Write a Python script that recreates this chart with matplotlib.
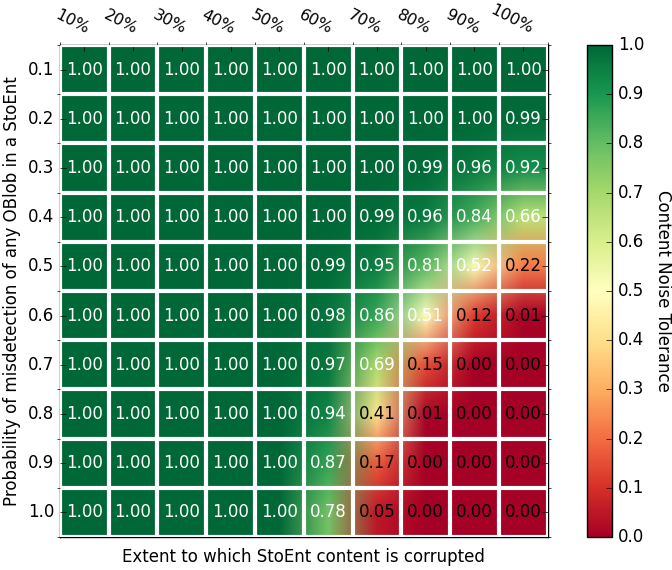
import numpy as np
import matplotlib
matplotlib.use("Agg")
import matplotlib.pyplot as plt
import matplotlib.transforms as mtransforms

prob_labels = ["0.1", "0.2", "0.3", "0.4", "0.5", "0.6", "0.7", "0.8", "0.9", "1.0"]
extent_labels = ["10%", "20%", "30%", "40%", "50%", "60%", "70%", "80%", "90%", "100%"]

row_01 = [1.00, 1.00, 1.00, 1.00, 1.00, 1.00, 1.00, 1.00, 1.00, 1.00]
row_02 = [1.00, 1.00, 1.00, 1.00, 1.00, 1.00, 1.00, 1.00, 1.00, 0.99]
row_03 = [1.00, 1.00, 1.00, 1.00, 1.00, 1.00, 1.00, 0.99, 0.96, 0.92]
row_04 = [1.00, 1.00, 1.00, 1.00, 1.00, 1.00, 0.99, 0.96, 0.84, 0.66]
row_05 = [1.00, 1.00, 1.00, 1.00, 1.00, 0.99, 0.95, 0.81, 0.52, 0.22]
row_06 = [1.00, 1.00, 1.00, 1.00, 1.00, 0.98, 0.86, 0.51, 0.12, 0.01]
row_07 = [1.00, 1.00, 1.00, 1.00, 1.00, 0.97, 0.69, 0.15, 0.00, 0.00]
row_08 = [1.00, 1.00, 1.00, 1.00, 1.00, 0.94, 0.41, 0.01, 0.00, 0.00]
row_09 = [1.00, 1.00, 1.00, 1.00, 1.00, 0.87, 0.17, 0.00, 0.00, 0.00]
row_10 = [1.00, 1.00, 1.00, 1.00, 1.00, 0.78, 0.05, 0.00, 0.00, 0.00]

tolerance = np.array([row_01, row_02, row_03, row_04, row_05,
                      row_06, row_07, row_08, row_09, row_10])

plt.style.use("classic")
plt.rcParams["font.family"] = ["DejaVu Sans"]

fig = plt.figure(figsize=(6.72, 5.7), dpi=100, facecolor="white")
ax = fig.add_axes([0.089, 0.058, 0.726, 0.863])
cax = fig.add_axes([0.874, 0.058, 0.037, 0.863])

# interpolacion en rgba, como el matplotlib viejo
im = ax.imshow(tolerance, cmap="RdYlGn", vmin=0.0, vmax=1.0,
               interpolation="bilinear", interpolation_stage="rgba",
               aspect="auto")

n_rows, n_cols = tolerance.shape
for i in range(n_rows):
    for j in range(n_cols):
        v = tolerance[i, j]
        ax.text(j, i, "%.2f" % v, ha="center", va="center", fontsize=12,
                color="white" if v > 0.5 else "black")

ax.set_xticks(np.arange(n_cols))
ax.set_yticks(np.arange(n_rows))
ax.xaxis.tick_top()
ax.set_xticklabels(extent_labels, rotation=-27, ha="center", fontsize=11.5)
ax.set_yticklabels(prob_labels)
ax.tick_params(axis="x", which="major", pad=6)

# corro las etiquetas de arriba un poco a la izquierda
shift = mtransforms.ScaledTranslation(-12 / 100, 0, fig.dpi_scale_trans)
for lbl in ax.get_xticklabels():
    lbl.set_transform(lbl.get_transform() + shift)

ax.set_xticks(np.arange(-0.5, n_cols, 1), minor=True)
ax.set_yticks(np.arange(-0.5, n_rows, 1), minor=True)
ax.grid(which="minor", color="white", linestyle="-", linewidth=3)
ax.grid(which="major", visible=False)
ax.tick_params(which="minor", length=2, direction="out")
ax.set_xlim(-0.5, n_cols - 0.5)
ax.set_ylim(n_rows - 0.5, -0.5)

ax.set_xlabel("Extent to which StoEnt content is corrupted", labelpad=8)
ax.set_ylabel("Probability of misdetection of any OBlob in a StoEnt")

cbar = fig.colorbar(im, cax=cax, ticks=np.arange(0, 1.01, 0.1))
cbar.set_label("Content Noise Tolerance", rotation=270, labelpad=20)

fig.savefig("out.png", dpi=100, facecolor="white")
